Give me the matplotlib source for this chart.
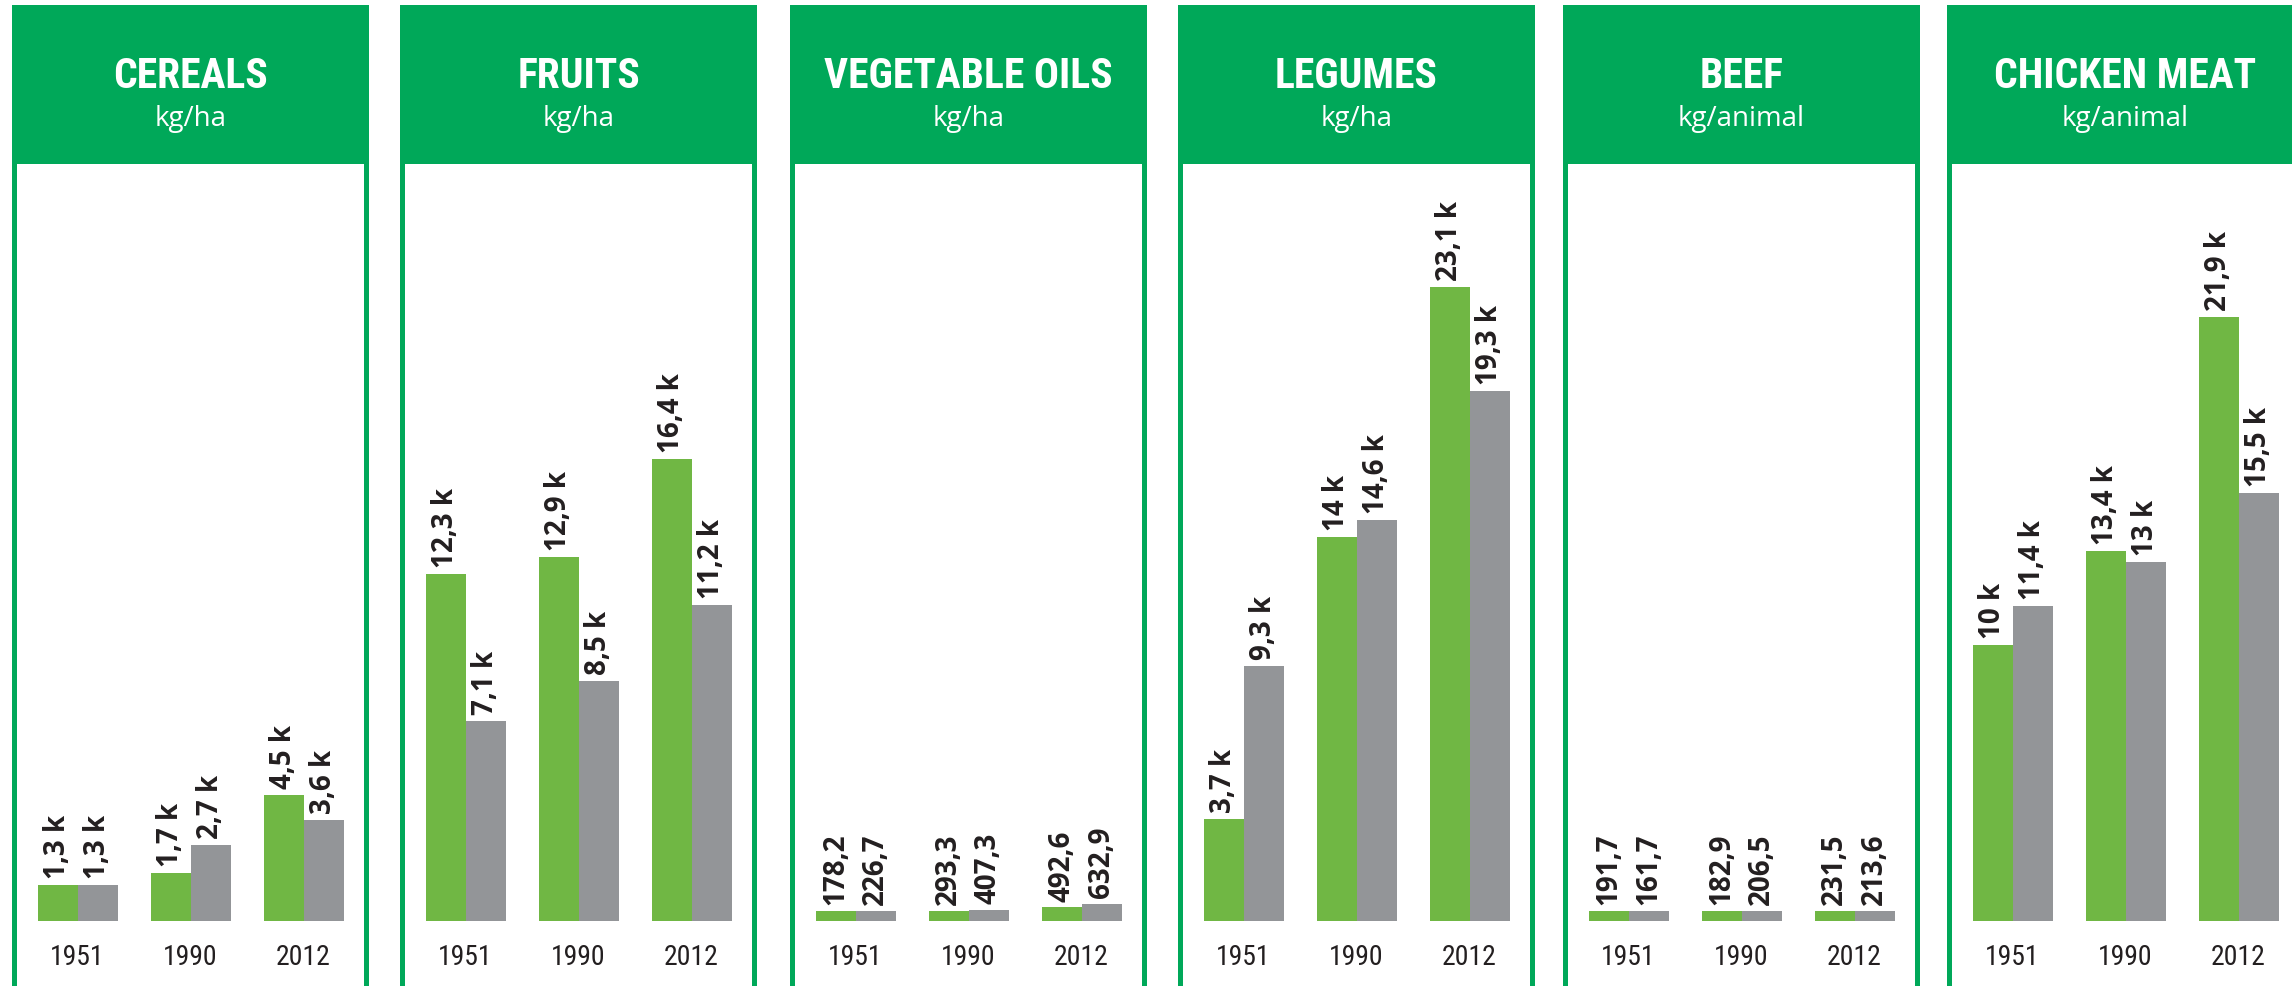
import matplotlib
matplotlib.use("Agg")
import matplotlib.pyplot as plt
from matplotlib import font_manager
from matplotlib.patches import Rectangle
import numpy as np

W, H, DPI = 2292, 987, 100

YEARS = ["1951", "1990", "2012"]
PANEL_TITLES = ["CEREALS", "FRUITS", "VEGETABLE OILS", "LEGUMES", "BEEF", "CHICKEN MEAT"]
PANEL_UNITS = ["kg/ha", "kg/ha", "kg/ha", "kg/ha", "kg/animal", "kg/animal"]

# values per panel: (green series, grey series) for 1951, 1990, 2012
CEREALS_GREEN = [1300, 1700, 4500]
CEREALS_GREY = [1300, 2700, 3600]
FRUITS_GREEN = [12300, 12900, 16400]
FRUITS_GREY = [7100, 8500, 11200]
VEGOILS_GREEN = [178.2, 293.3, 492.6]
VEGOILS_GREY = [226.7, 407.3, 632.9]
LEGUMES_GREEN = [3700, 14000, 23100]
LEGUMES_GREY = [9300, 14600, 19300]
BEEF_GREEN = [191.7, 182.9, 231.5]
BEEF_GREY = [161.7, 206.5, 213.6]
CHICKEN_GREEN = [10000, 13400, 21900]
CHICKEN_GREY = [11400, 13000, 15500]

GREEN_SERIES = [CEREALS_GREEN, FRUITS_GREEN, VEGOILS_GREEN, LEGUMES_GREEN, BEEF_GREEN, CHICKEN_GREEN]
GREY_SERIES = [CEREALS_GREY, FRUITS_GREY, VEGOILS_GREY, LEGUMES_GREY, BEEF_GREY, CHICKEN_GREY]

HEADER_GREEN = "#00A859"
BAR_GREEN = "#70B744"
BAR_GREY = "#939598"
TEXT_DARK = "#231F20"


def pick_font(candidates):
    names = {f.name for f in font_manager.fontManager.ttflist}
    for c in candidates:
        if c in names:
            return c
    return "DejaVu Sans"


NARROW = pick_font(["Liberation Sans Narrow", "Roboto Condensed", "DejaVu Sans"])
BODY = pick_font(["Open Sans", "Noto Sans", "DejaVu Sans"])


def fmt(v):
    if v >= 1000:
        s = f"{v / 1000:.1f}".rstrip("0").rstrip(".")
        return s.replace(".", ",") + " k"
    return f"{v:.1f}".replace(".", ",")


# layout in reference pixels
PANEL_LEFTS = [12, 400, 790, 1178, 1563, 1947]
PANEL_W = 357
BORDER = 5
HEADER_TOP, HEADER_BOT = 6, 165
BASELINE = 922
# vertical scale of each panel, pixels per 1000 units
PX_PER_K = [28.0, 28.2, 27.45, 27.45, 27.45, 27.6]
GROUP_STEP = 113
BAR_W = 40
MIN_BAR_PX = 10  # tiny values still drawn as a visible sliver


def fx(px):
    return px / W


def fy(py):
    return 1 - py / H


fig = plt.figure(figsize=(W / DPI, H / DPI), dpi=DPI, facecolor="white")

for i, left in enumerate(PANEL_LEFTS):
    right = left + PANEL_W
    # header block
    fig.patches.append(Rectangle((fx(left), fy(HEADER_BOT)), fx(PANEL_W), fy(HEADER_TOP) - fy(HEADER_BOT),
                                 transform=fig.transFigure, facecolor=HEADER_GREEN, edgecolor="none"))
    # side borders
    for bx in (left, right - BORDER):
        fig.patches.append(Rectangle((fx(bx), 0), fx(BORDER), fy(HEADER_BOT),
                                     transform=fig.transFigure, facecolor=HEADER_GREEN, edgecolor="none"))
    cx = left + PANEL_W / 2
    fig.text(fx(cx), fy(77), PANEL_TITLES[i], ha="center", va="center", color="white",
             fontsize=30, fontweight="bold", family=NARROW)
    fig.text(fx(cx), fy(119), PANEL_UNITS[i], ha="center", va="center", color="white",
             fontsize=20, family=BODY)

    inner_l = left + BORDER
    inner_w = PANEL_W - 2 * BORDER
    ax = fig.add_axes([fx(inner_l), fy(BASELINE), fx(inner_w), fy(HEADER_BOT) - fy(BASELINE)])
    ax.set_facecolor("none")
    half = inner_w / 2 / GROUP_STEP
    ax.set_xlim(1 - half, 1 + half)
    px_per_unit = PX_PER_K[i] / 1000
    ax.set_ylim(0, (BASELINE - HEADER_BOT) / px_per_unit)

    x = np.arange(len(YEARS))
    w = BAR_W / GROUP_STEP
    min_h = MIN_BAR_PX / px_per_unit
    for vals, color, off in ((GREEN_SERIES[i], BAR_GREEN, -w / 2), (GREY_SERIES[i], BAR_GREY, w / 2)):
        shown = np.maximum(np.array(vals, dtype=float), min_h)
        ax.bar(x + off, shown, width=w, color=color, linewidth=0)
        for xi, v, h in zip(x + off, vals, shown):
            ax.annotate(fmt(v), (xi, h), xytext=(0, 5), textcoords="offset points",
                        rotation=90, ha="center", va="bottom", fontsize=20,
                        fontweight="bold", color=TEXT_DARK, family=BODY)

    ax.set_xticks(x, YEARS)
    ax.tick_params(axis="x", length=0, pad=16, labelsize=20, labelcolor=TEXT_DARK)
    for lab in ax.get_xticklabels():
        lab.set_family(NARROW)
    ax.set_yticks([])
    for s in ax.spines.values():
        s.set_visible(False)

fig.savefig("out.png", dpi=DPI, facecolor="white")
